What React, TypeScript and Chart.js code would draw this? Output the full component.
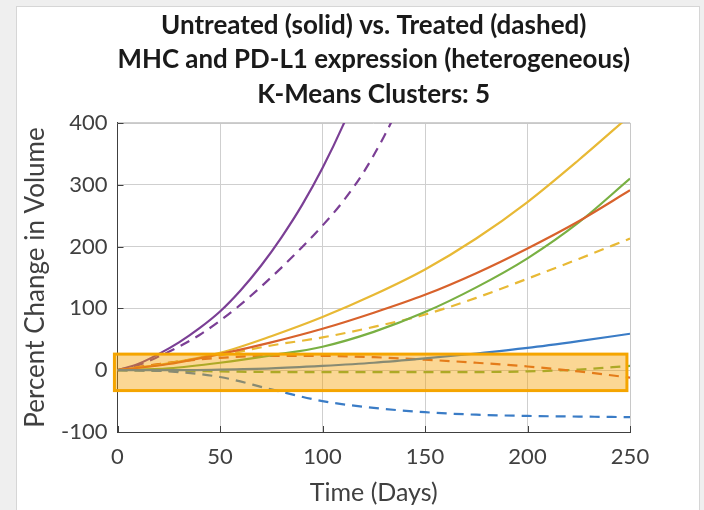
import React, { useEffect, useRef } from "react";
import { Chart, registerables } from "chart.js";

Chart.register(...registerables);

// ---- data ----
const titleLines = [
  "Untreated (solid) vs. Treated (dashed)",
  "MHC and PD-L1 expression (heterogeneous)",
  "K-Means Clusters: 5",
];
const xLabel = "Time (Days)";
const yLabel = "Percent Change in Volume";

const days = [0, 25, 50, 75, 100, 125, 150, 175, 200, 225, 250];
const purpleDays = [0, 10, 20, 30, 40, 50, 60, 70, 80, 90, 100, 110, 120, 130, 140];

const blueSolid = [0, 0, 1, 3, 7, 12, 19, 27, 36, 47, 59];
const blueDashed = [0, -2, -11, -31, -50, -61, -68, -72, -74, -75, -76];
const orangeSolid = [0, 10, 26, 45, 67, 93, 122, 157, 197, 241, 291];
const orangeDashed = [0, 12, 20, 23, 23, 21, 17, 12, 6, -2, -12];
const yellowSolid = [0, 11, 28, 55, 86, 122, 163, 213, 272, 340, 412];
const yellowDashed = [0, 12, 24, 40, 53, 70, 90, 117, 148, 180, 213];
const greenSolid = [0, 3, 12, 24, 38, 62, 94, 134, 181, 239, 310];
const greenDashed = [0, -1, -2, -3, -3, -3, -3, -3, -2, 1, 7];
const purpleSolid = [0, 10, 26, 45, 68, 95, 129, 169, 215, 267, 327, 396, 475, 560, 650];
const purpleDashed = [0, 8, 22, 38, 57, 80, 106, 135, 166, 199, 234, 273, 320, 378, 445];

// highlighted region [x0, x1], [y0, y1] in data units
const boxX = [-1.5, 248.5];
const boxY = [-33, 26];

const xTicks = [0, 50, 100, 150, 200, 250];
const yTicks = [-100, 0, 100, 200, 300, 400];

const COLORS = {
  blue: "#3a7cc6",
  orange: "#d8622c",
  yellow: "#e8b935",
  purple: "#7b3f95",
  green: "#79b043",
};

const pts = (xs: number[], ys: number[]) => ys.map((y, i) => ({ x: xs[i], y }));

const boxPlugin = {
  id: "boxAndTicks",
  beforeDatasetsDraw(chart: any) {
    const { ctx, chartArea } = chart;
    ctx.save();
    ctx.strokeStyle = "#c8c8c8";
    ctx.lineWidth = 1;
    ctx.beginPath();
    ctx.moveTo(chartArea.left, Math.round(chartArea.top) + 0.5);
    ctx.lineTo(chartArea.right, Math.round(chartArea.top) + 0.5);
    ctx.moveTo(Math.round(chartArea.right) + 0.5, chartArea.top);
    ctx.lineTo(Math.round(chartArea.right) + 0.5, chartArea.bottom);
    ctx.stroke();
    // inward ticks
    const xs = chart.scales.x;
    const ys = chart.scales.y;
    ctx.strokeStyle = "#404040";
    ctx.beginPath();
    yTicks.forEach((v) => {
      const p = Math.round(ys.getPixelForValue(v)) + 0.5;
      ctx.moveTo(chartArea.left, p);
      ctx.lineTo(chartArea.left + 6, p);
    });
    xTicks.forEach((v) => {
      const p = Math.round(xs.getPixelForValue(v)) + 0.5;
      ctx.moveTo(p, chartArea.bottom);
      ctx.lineTo(p, chartArea.bottom - 6);
    });
    ctx.stroke();
    ctx.restore();
  },
  afterDatasetsDraw(chart: any) {
    const { ctx } = chart;
    const xs = chart.scales.x;
    const ys = chart.scales.y;
    const x0 = xs.getPixelForValue(boxX[0]);
    const x1 = xs.getPixelForValue(boxX[1]);
    const y0 = ys.getPixelForValue(boxY[1]);
    const y1 = ys.getPixelForValue(boxY[0]);
    ctx.save();
    ctx.fillStyle = "rgba(245,159,0,0.42)";
    ctx.fillRect(x0, y0, x1 - x0, y1 - y0);
    ctx.strokeStyle = "#f5a500";
    ctx.lineWidth = 3;
    ctx.strokeRect(x0, y0, x1 - x0, y1 - y0);
    ctx.restore();
  },
};

export default function App() {
  const ref = useRef<HTMLCanvasElement | null>(null);

  useEffect(() => {
    if (!ref.current) return;
    const line = (data: any[], color: string, dashed: boolean) => ({
      data,
      borderColor: color,
      backgroundColor: color,
      borderWidth: 2.2,
      borderDash: dashed ? [10, 7] : [],
      pointRadius: 0,
      fill: false,
      cubicInterpolationMode: "monotone" as const,
    });
    const chart = new Chart(ref.current, {
      type: "line",
      data: {
        datasets: [
          line(pts(days, blueSolid), COLORS.blue, false),
          line(pts(days, orangeSolid), COLORS.orange, false),
          line(pts(days, yellowSolid), COLORS.yellow, false),
          line(pts(purpleDays, purpleSolid), COLORS.purple, false),
          line(pts(days, greenSolid), COLORS.green, false),
          line(pts(days, blueDashed), COLORS.blue, true),
          line(pts(days, orangeDashed), COLORS.orange, true),
          line(pts(days, yellowDashed), COLORS.yellow, true),
          line(pts(purpleDays, purpleDashed), COLORS.purple, true),
          line(pts(days, greenDashed), COLORS.green, true),
        ],
      },
      options: {
        animation: false,
        responsive: false,
        maintainAspectRatio: false,
        layout: { padding: { left: 17, right: 74, top: 0, bottom: 0 } },
        plugins: {
          legend: { display: false },
          tooltip: { enabled: false },
          title: {
            display: true,
            text: titleLines,
            fullSize: false,
            color: "#1a1a1a",
            font: { family: "Lato", size: 26, weight: "bold", lineHeight: 1.33 },
            padding: { top: 8, bottom: 11.2 },
          },
        },
        scales: {
          x: {
            type: "linear",
            min: 0,
            max: 250,
            afterFit: (s: any) => {
              s.height = 78;
            },
            afterBuildTicks: (s: any) => {
              s.ticks = xTicks.map((v) => ({ value: v }));
            },
            ticks: {
              color: "#404040",
              font: { family: "Lato", size: 22 },
              padding: 12,
              maxRotation: 0,
            },
            grid: { color: "#cfcfcf", drawTicks: false },
            border: { display: true, color: "#404040", width: 1 },
            title: {
              display: true,
              text: xLabel,
              color: "#404040",
              font: { family: "Lato", size: 25 },
              padding: { top: 0, bottom: 2.5 },
            },
          },
          y: {
            type: "linear",
            min: -100,
            max: 400,
            afterFit: (s: any) => {
              s.width = 100.5;
            },
            afterBuildTicks: (s: any) => {
              s.ticks = yTicks.map((v) => ({ value: v }));
            },
            ticks: {
              color: "#404040",
              font: { family: "Lato", size: 22 },
              padding: 10,
            },
            grid: { color: "#cfcfcf", drawTicks: false },
            border: { display: true, color: "#404040", width: 1 },
            title: {
              display: true,
              text: yLabel,
              color: "#404040",
              font: { family: "Lato", size: 26 },
              padding: { top: 3.4, bottom: 0 },
            },
          },
        },
      },
      plugins: [boxPlugin],
    });
    return () => chart.destroy();
  }, []);

  return (
    <div
      style={{
        position: "fixed",
        left: 0,
        top: 0,
        width: 704,
        height: 510,
        background: "#efefef",
        overflow: "hidden",
      }}
    >
      <div
        style={{
          position: "absolute",
          left: 16,
          top: 6,
          width: 682,
          height: 510,
          background: "#ffffff",
          border: "1px solid #d6d6d6",
        }}
      />
      <canvas
        ref={ref}
        width={704}
        height={510}
        style={{ position: "absolute", left: 0, top: 0, width: 704, height: 510 }}
      />
    </div>
  );
}
